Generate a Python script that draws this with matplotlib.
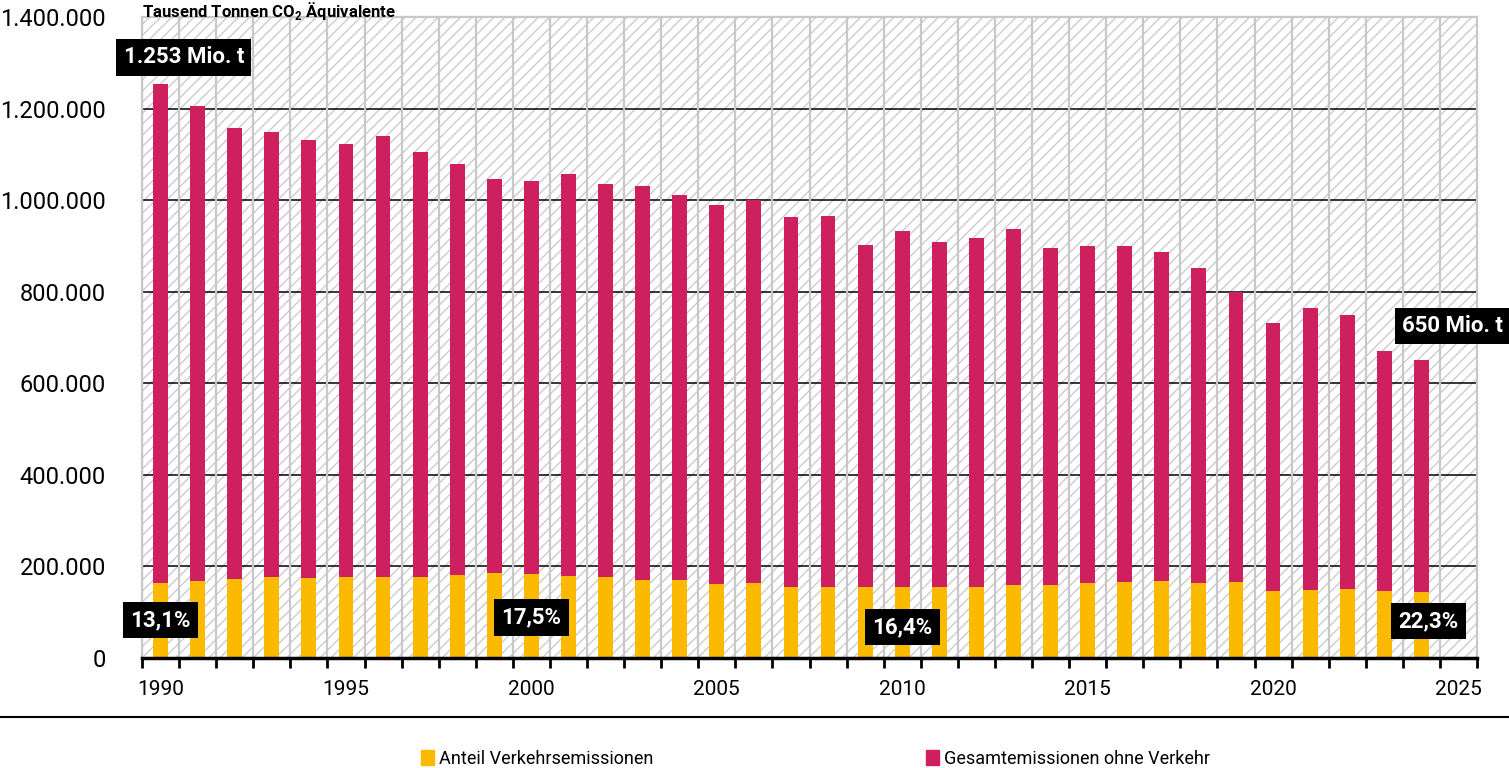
import matplotlib
matplotlib.use("Agg")
import matplotlib.pyplot as plt
from matplotlib.patches import Rectangle, Patch
from matplotlib.lines import Line2D
from matplotlib.ticker import FuncFormatter

# Data (Tausend Tonnen CO2-Aequivalente)
years = list(range(1990, 2025))
total = [1253, 1206, 1158, 1149, 1131, 1123, 1140, 1105, 1079, 1046,
         1042, 1057, 1036, 1030, 1011, 989, 1001, 964, 965, 902,
         933, 909, 917, 937, 895, 899, 899, 887, 852, 799,
         731, 764, 749, 670, 650]
transport = [164, 168, 173, 177, 174, 177, 177, 177, 182, 186,
             183, 179, 177, 170, 170, 162, 164, 155, 155, 154,
             154, 155, 155, 159, 160, 164, 166, 168, 164, 166,
             147, 149, 150, 146, 145]
rest = [(t - v) * 1000 for t, v in zip(total, transport)]
transport_t = [v * 1000 for v in transport]

labels_box = [
    # text, x (year), y (value)
    ("1.253 Mio. t", 1990.63, 1312000),
    ("650 Mio. t", 2024.85, 725000),
    ("13,1%", 1990.0, 83000),
    ("17,5%", 2000.0, 89000),
    ("16,4%", 2010.0, 68000),
    ("22,3%", 2024.2, 81000),
]

YELLOW = "#FBB900"
CRIMSON = "#CE1F5E"

plt.rcParams["font.family"] = ["Roboto", "DejaVu Sans"]
plt.rcParams["hatch.linewidth"] = 1.0

fig = plt.figure(figsize=(15.09, 7.68), dpi=100)
ax = fig.add_axes([142 / 1509, 1 - 658 / 768, (1477 - 142) / 1509, (658 - 17) / 768])

# hatched background
ax.add_patch(Rectangle((0, 0), 1, 1, transform=ax.transAxes, facecolor="white",
                       edgecolor="#cccccc", hatch="///", linewidth=0, zorder=0))

ax.set_xlim(1989.5, 2025.5)
ax.set_ylim(0, 1400000)

# grid
for y in range(200000, 1400000, 200000):
    ax.axhline(y, color="black", lw=1.1, zorder=1)
for b in range(1990, 2026):
    ax.axvline(b - 0.5, color="#c8c8c8", lw=1.6, zorder=1)

ax.bar(years, transport_t, width=0.4, color=YELLOW, zorder=3)
ax.bar(years, rest, width=0.4, bottom=transport_t, color=CRIMSON, zorder=3)

for txt, x, y in labels_box:
    ax.text(x, y, txt, ha="center", va="center", color="white", fontsize=16,
            fontweight="bold", zorder=5, clip_on=False,
            bbox=dict(facecolor="black", edgecolor="none", boxstyle="square,pad=0.33"))

# axes styling
for s in ["top", "right", "left"]:
    ax.spines[s].set_color("#c8c8c8")
    ax.spines[s].set_linewidth(1.6)
ax.spines["bottom"].set_color("black")
ax.spines["bottom"].set_linewidth(2.5)
ax.spines["bottom"].set_zorder(4)

ax.set_yticks(range(0, 1400001, 200000))
ax.yaxis.set_major_formatter(FuncFormatter(lambda v, p: f"{int(v):,}".replace(",", ".")))
ax.tick_params(axis="y", length=0, pad=26, labelsize=17)

ax.set_xticks(range(1990, 2026, 5))
ax.set_xticks([b - 0.5 for b in range(1990, 2027)], minor=True)
ax.tick_params(axis="x", which="major", length=0, pad=16, labelsize=15)
ax.tick_params(axis="x", which="minor", length=7, width=2, color="black", direction="out")

fig.text(142 / 1509, 1 - 0.5 / 768, r"Tausend Tonnen CO$_\mathregular{2}$ Äquivalente",
         fontsize=12, fontweight="bold", ha="left", va="top")

# separator line
fig.add_artist(Line2D([0, 1], [1 - 717 / 768, 1 - 717 / 768], color="black", lw=1.5,
                      transform=fig.transFigure))

fig.legend(handles=[Patch(color=YELLOW, label="Anteil Verkehrsemissionen")],
           loc="center left", bbox_to_anchor=(412 / 1509, 1 - 759 / 768),
           frameon=False, fontsize=13, handlelength=0.7, handleheight=0.9,
           handletextpad=0.3, borderpad=0)
fig.legend(handles=[Patch(color=CRIMSON, label="Gesamtemissionen ohne Verkehr")],
           loc="center left", bbox_to_anchor=(917 / 1509, 1 - 759 / 768),
           frameon=False, fontsize=13, handlelength=0.7, handleheight=0.9,
           handletextpad=0.3, borderpad=0)

fig.savefig("out.png", dpi=100)
